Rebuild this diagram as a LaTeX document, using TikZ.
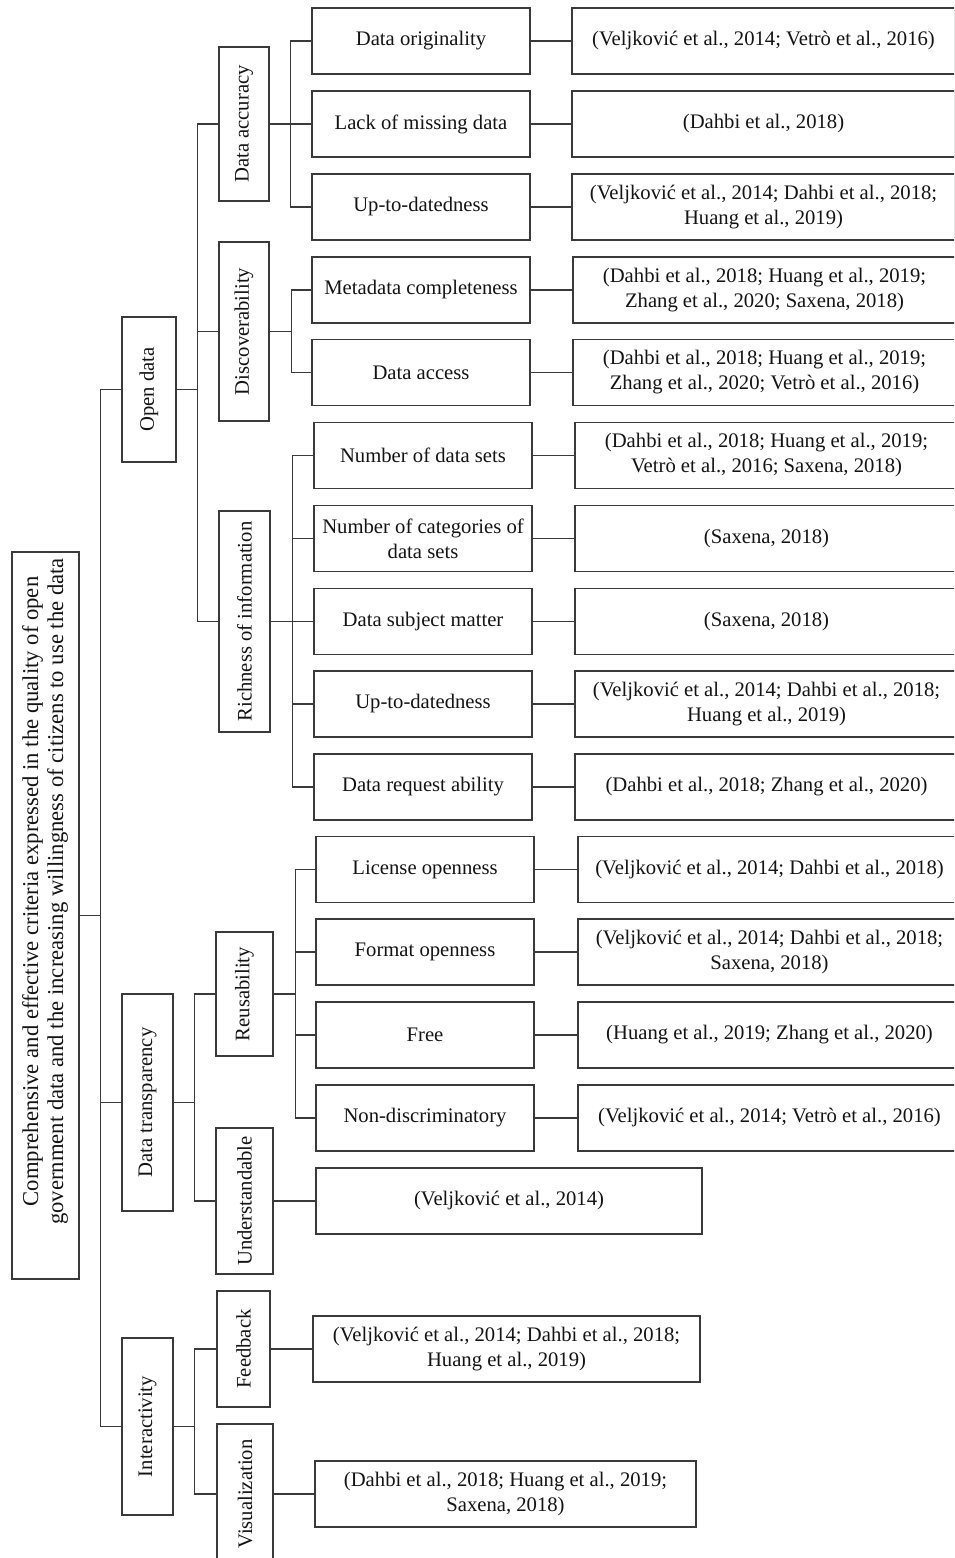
\documentclass[tikz,border=0pt]{standalone}
\usepackage{fontspec}
\setmainfont{Liberation Serif}
\definecolor{ink}{HTML}{3A3A3A}
\tikzset{
  base/.style={draw=ink, line width=0.95pt, fill=white, inner sep=0pt, align=center,
    font=\fontsize{15.5}{18.75}\selectfont, text=black!92},
  bx/.style 2 args={base, minimum width=#1*0.75pt, minimum height=#2*0.75pt},
  link/.style={draw=ink, line width=0.8pt},
}
\newcommand{\up}[1]{\rotatebox{90}{#1}}
\begin{document}
\begin{tikzpicture}[x=0.75pt,y=-0.75pt]
\useasboundingbox (0,0) rectangle (954,1558);
\clip (0,0) rectangle (954,1558);

% root
\node[bx={67}{727}, font=\fontsize{17}{18.75}\selectfont] (root) at (45.5,915.5)
  {\up{\hspace{36pt}\begin{tabular}{@{}c@{}}Comprehensive and effective criteria expressed in the quality of open\\government data and the increasing willingness of citizens to use the data\end{tabular}}};

% first level
\node[bx={54}{145}] (OD) at (149,389.5) {\up{Open data}};
\node[bx={51}{217}] (DT) at (147.5,1102.5) {\up{Data transparency}};
\node[bx={51}{177}] (IA) at (147.5,1426.5) {\up{Interactivity}};

% second level
\node[bx={50}{154}] (DA) at (244,124) {\up{Data accuracy}};
\node[bx={50}{179}] (DI) at (244,331.5) {\up{Discoverability}};
\node[bx={51}{221}] (RI) at (244.5,621.5) {\up{Richness of information}};
\node[bx={57}{124}] (RE) at (244.5,994) {\up{Reusability}};
\node[bx={57}{146}] (UN) at (244.5,1201) {\up{Understandable}};
\node[bx={53}{116}] (FB) at (243.5,1349) {\up{Feedback}};
\node[bx={56}{140}] (VI) at (245,1494) {\up{Visualization}};

% criteria
\node[bx={218}{66}] (a1) at (421,41) {Data originality};
\node[bx={218}{66}] (a2) at (421,124) {Lack of missing data};
\node[bx={218}{66}] (a3) at (421,207) {Up-to-datedness};
\node[bx={218}{66}] (d1) at (421,290) {Metadata completeness};
\node[bx={218}{66}] (d2) at (421,372.5) {Data access};
\node[bx={218}{66}] (r1) at (423,455.5) {Number of data sets};
\node[bx={218}{66}] (r2) at (423,538.5) {Number of categories of\\data sets};
\node[bx={218}{66}] (r3) at (423,621.5) {Data subject matter};
\node[bx={218}{66}] (r4) at (423,704) {Up-to-datedness};
\node[bx={218}{66}] (r5) at (423,787) {Data request ability};
\node[bx={218}{66}] (u1) at (425,869.5) {License openness};
\node[bx={218}{66}] (u2) at (425,952) {Format openness};
\node[bx={218}{66}] (u3) at (425,1035) {Free};
\node[bx={218}{66}] (u4) at (425,1118) {Non-discriminatory};

% sources
\node[bx={383}{66}] (a1s) at (763.5,41) {(Veljković et al., 2014; Vetrò et al., 2016)};
\node[bx={383}{66}] (a2s) at (763.5,124) {(Dahbi et al., 2018)};
\node[bx={383}{66}] (a3s) at (763.5,207) {(Veljković et al., 2014; Dahbi et al., 2018;\\Huang et al., 2019)};
\node[bx={383}{66}] (d1s) at (764.5,290) {(Dahbi et al., 2018; Huang et al., 2019;\\Zhang et al., 2020; Saxena, 2018)};
\node[bx={383}{66}] (d2s) at (764.5,372.5) {(Dahbi et al., 2018; Huang et al., 2019;\\Zhang et al., 2020; Vetrò et al., 2016)};
\node[bx={383}{66}] (r1s) at (766.5,455.5) {(Dahbi et al., 2018; Huang et al., 2019;\\Vetrò et al., 2016; Saxena, 2018)};
\node[bx={383}{66}] (r2s) at (766.5,538.5) {(Saxena, 2018)};
\node[bx={383}{66}] (r3s) at (766.5,621.5) {(Saxena, 2018)};
\node[bx={383}{66}] (r4s) at (766.5,704) {(Veljković et al., 2014; Dahbi et al., 2018;\\Huang et al., 2019)};
\node[bx={383}{66}] (r5s) at (766.5,787) {(Dahbi et al., 2018; Zhang et al., 2020)};
\node[bx={383}{66}] (u1s) at (769.5,869.5) {(Veljković et al., 2014; Dahbi et al., 2018)};
\node[bx={383}{66}] (u2s) at (769.5,952) {(Veljković et al., 2014; Dahbi et al., 2018;\\Saxena, 2018)};
\node[bx={383}{66}] (u3s) at (769.5,1035) {(Huang et al., 2019; Zhang et al., 2020)};
\node[bx={383}{66}] (u4s) at (769.5,1118) {(Veljković et al., 2014; Vetrò et al., 2016)};
\node[bx={386}{66}] (UNs) at (509,1201) {(Veljković et al., 2014)};
\node[bx={387}{66}] (FBs) at (506.5,1349) {(Veljković et al., 2014; Dahbi et al., 2018;\\Huang et al., 2019)};
\node[bx={381}{66}] (VIs) at (505.5,1494) {(Dahbi et al., 2018; Huang et al., 2019;\\Saxena, 2018)};

% tree connectors
\foreach \c in {OD,DT,IA} \draw[link] (root.east) -- ++(21,0) |- (\c.west);
\foreach \c in {DA,DI,RI} \draw[link] (OD.east) -- ++(21,0) |- (\c.west);
\foreach \c in {RE,UN} \draw[link] (DT.east) -- ++(21,0) |- (\c.west);
\foreach \c in {FB,VI} \draw[link] (IA.east) -- ++(21,0) |- (\c.west);
\foreach \c in {a1,a2,a3} \draw[link] (DA.east) -- ++(21,0) |- (\c.west);
\foreach \c in {d1,d2} \draw[link] (DI.east) -- ++(22,0) |- (\c.west);
\foreach \c in {r1,r2,r3,r4,r5} \draw[link] (RI.east) -- ++(22,0) |- (\c.west);
\foreach \c in {u1,u2,u3,u4} \draw[link] (RE.east) -- ++(22,0) |- (\c.west);

% criterion to source
\foreach \c in {a1,a2,a3,d1,d2,r1,r2,r3,r4,r5,u1,u2,u3,u4} \draw[link] (\c.east) -- (\c s.west);
\draw[link] (UN.east) -- (UNs.west);
\draw[link] (FB.east) -- (FBs.west);
\draw[link] (VI.east) -- (VIs.west);
\end{tikzpicture}
\end{document}
